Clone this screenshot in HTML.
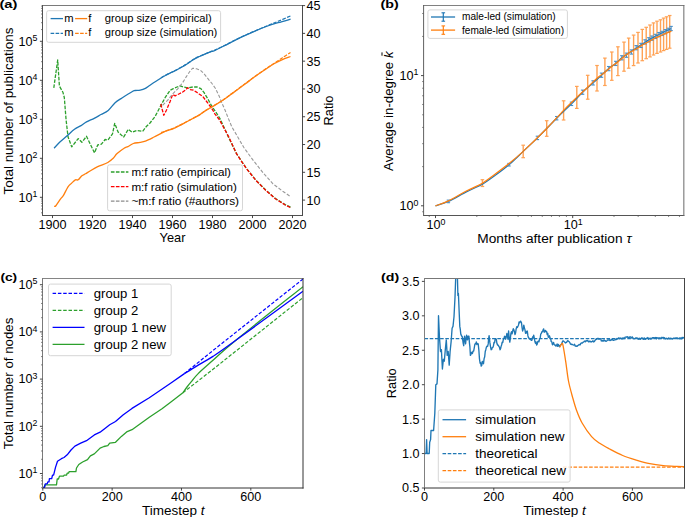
<!DOCTYPE html><html><head><meta charset="utf-8"><style>html,body{margin:0;padding:0;background:#fff;}svg{display:block;}text{font-family:"Liberation Sans", sans-serif;}</style></head><body>
<svg width="685" height="517" viewBox="0 0 685 517">
<rect width="685" height="517" fill="#fff"/>
<defs>
<clipPath id="ca"><rect x="42.5" y="5.5" width="260" height="210"/></clipPath>
<clipPath id="cb"><rect x="423.6" y="5.5" width="260.25" height="210"/></clipPath>
<clipPath id="cc"><rect x="42.5" y="278.5" width="260.5" height="209.5"/></clipPath>
<clipPath id="cd"><rect x="424.5" y="278.5" width="260" height="209.5"/></clipPath>
</defs>
<path d="M53.8,87.9 L57.7,60 L59.4,86.1 L62.9,92.2 L64.3,97.5 L66.1,120 L68,136.7 L71.7,146.9 L78.2,138.6 L81.9,142.3 L86.5,136.3 L94.5,152.8 L97.7,145 L101.4,144.1 L105.1,139.5 L107.9,140 L112.5,133.9 L114.7,123.3 L118.1,132.1 L123.6,137.1 L128.3,129.3 L132,132.3 L136.7,130.5 L142.8,131.2 L146.3,126.5 L150,123 L155,116.6 L161.3,104.7 L165.1,97.7 L170.1,90.2 L173.3,88.7 L177,87 L180.2,85.8 L183.3,87 L187.7,87.9 L192.8,87 L197.2,87 L200.9,88.7 L204.1,92.7 L207.9,99 L211.6,105.9 L215,110.8 L220.1,118.8 L228.6,137.4 L236.4,153.4 L246.1,168 L255.9,180.2 L265.7,190 L275.4,198.5 L285.2,204.6 L290.5,207.1" fill="none" stroke="#2ca02c" stroke-width="1.3" stroke-linejoin="round" stroke-linecap="butt" stroke-dasharray="3.6,1.4" clip-path="url(#ca)"/>
<path d="M160.7,104 L163.8,115.3 L166.4,110.3 L170.1,101.5 L172.6,94.6 L175.2,95.8 L178.9,94 L182.7,92.1 L185.2,90.2 L187.7,87.7 L190.3,89.6 L193.4,90.2 L196.5,92.1 L199.1,94 L202.8,96.5 L206.6,101.5 L210.4,106.5 L212.9,110.3 L215,114.1 L219.3,119.6 L228.6,136.6 L236.4,153.6 L246.1,168.2 L255.9,180.4 L265.7,190.3 L275.4,198.8 L285.2,205 L290.5,207.6" fill="none" stroke="#ff0000" stroke-width="1.3" stroke-linejoin="round" stroke-linecap="butt" stroke-dasharray="3.6,1.4" clip-path="url(#ca)"/>
<path d="M162.6,105.3 L167.6,100.3 L172.6,94 L177.7,88.9 L182.7,82.6 L186.5,76.4 L190.3,70.7 L192.8,68.2 L196.5,68.8 L200.3,70.1 L204.1,73.8 L209.1,80.1 L211.6,83 L215.5,88.5 L219.3,96.4 L221.7,102.6 L224.8,109.5 L227.9,117.3 L231.7,126.6 L237.2,136 L243.7,147.3 L253.5,160.7 L263.2,172.9 L273,183.9 L282.7,191.2 L290.5,196.6" fill="none" stroke="#999999" stroke-width="1.1" stroke-linejoin="round" stroke-linecap="butt" stroke-dasharray="3.4,1.7" clip-path="url(#ca)"/>
<path d="M54.1,148.2 C55.02,147.22 57.43,144.37 59.6,142.3 C61.77,140.23 64.62,137.97 67.1,135.8 C69.58,133.63 72.18,131 74.5,129.3 C76.82,127.6 79,126.83 81,125.6 C83,124.37 84.3,123.12 86.5,121.9 C88.7,120.68 91.78,119.53 94.2,118.3 C96.62,117.07 98.67,115.8 101,114.5 C103.33,113.2 105.85,112.47 108.2,110.5 C110.55,108.53 112.8,104.78 115.1,102.7 C117.4,100.62 119.18,99.83 122,98 C124.82,96.17 129.83,92.95 132,91.7 C134.17,90.45 133.63,90.77 135,90.5 C136.37,90.23 138.47,90.45 140.2,90.1 C141.93,89.75 143.77,89.22 145.4,88.4 C147.03,87.58 148.23,86.4 150,85.2 C151.77,84 153.9,82.57 156,81.2 C158.1,79.83 160.43,78.27 162.6,77 C164.77,75.73 166.9,74.65 169,73.6 C171.1,72.55 173.03,71.8 175.2,70.7 C177.37,69.6 180.03,68.12 182,67 C183.97,65.88 185.2,65.17 187,64 C188.8,62.83 191.13,61.07 192.8,60 C194.47,58.93 195.9,58.18 197,57.6 C198.1,57.02 197.27,57.4 199.4,56.5 C201.53,55.6 207.2,53.23 209.8,52.2 C212.4,51.17 211.95,51.7 215,50.3 C218.05,48.9 223.72,45.98 228.1,43.8 C232.48,41.62 236.92,39.28 241.3,37.2 C245.68,35.12 250.02,33.17 254.4,31.3 C258.78,29.43 263.65,27.43 267.6,26 C271.55,24.57 274.27,23.83 278.1,22.7 C281.93,21.57 288.52,19.78 290.6,19.2" fill="none" stroke="#1f77b4" stroke-width="1.3" stroke-linejoin="round" clip-path="url(#ca)"/>
<path d="M161,77.8 C162.33,77.07 166.63,74.62 169,73.4 C171.37,72.18 173.03,71.6 175.2,70.5 C177.37,69.4 180.03,67.92 182,66.8 C183.97,65.68 185.2,64.97 187,63.8 C188.8,62.63 191.13,60.87 192.8,59.8 C194.47,58.73 194.17,58.7 197,57.4 C199.83,56.1 206.8,53.22 209.8,52 C212.8,50.78 211.95,51.5 215,50.1 C218.05,48.7 223.72,45.78 228.1,43.6 C232.48,41.42 236.92,39.08 241.3,37 C245.68,34.92 250.02,33 254.4,31.1 C258.78,29.2 263.65,27.23 267.6,25.6 C271.55,23.97 274.27,22.92 278.1,21.3 C281.93,19.68 288.52,16.8 290.6,15.9" fill="none" stroke="#1f77b4" stroke-width="1.2" stroke-linejoin="round" stroke-dasharray="3.6,1.4" clip-path="url(#ca)"/>
<path d="M54.1,206.3 C54.4,206.2 54.82,206.93 55.9,205.7 C56.98,204.47 59.37,200.57 60.6,198.9 C61.83,197.23 62.07,197.72 63.3,195.7 C64.53,193.68 66.6,188.9 68,186.8 C69.4,184.7 70.47,184.27 71.7,183.1 C72.93,181.93 74.32,180.35 75.4,179.8 C76.48,179.25 77.12,180.48 78.2,179.8 C79.28,179.12 80.67,176.7 81.9,175.7 C83.13,174.7 84.25,174.58 85.6,173.8 C86.95,173.02 87.98,172.18 90,171 C92.02,169.82 94.73,168.12 97.7,166.7 C100.67,165.28 105.22,163.92 107.8,162.5 C110.38,161.08 111.65,159.68 113.2,158.2 C114.75,156.72 115.28,155.27 117.1,153.6 C118.92,151.93 122.3,149.37 124.1,148.2 C125.9,147.03 126.37,147.38 127.9,146.6 C129.43,145.82 131.28,144.2 133.3,143.5 C135.32,142.8 137.98,142.8 140,142.4 C142.02,142 143.05,142 145.4,141.1 C147.75,140.2 150.9,138.58 154.1,137 C157.3,135.42 161.4,133 164.6,131.6 C167.8,130.2 170.4,129.82 173.3,128.6 C176.2,127.38 178.82,125.93 182,124.3 C185.18,122.67 189.4,120.42 192.4,118.8 C195.4,117.18 197.73,116 200,114.6 C202.27,113.2 203.93,111.73 206,110.4 C208.07,109.07 209.78,108.17 212.4,106.6 C215.02,105.03 218.43,103.17 221.7,101 C224.97,98.83 228.12,96.43 232,93.6 C235.88,90.77 241.22,86.8 245,84 C248.78,81.2 251.47,79.13 254.7,76.8 C257.93,74.47 261.18,72.18 264.4,70 C267.62,67.82 271.1,65.4 274,63.7 C276.9,62 279.05,61 281.8,59.8 C284.55,58.6 289.05,57.05 290.5,56.5" fill="none" stroke="#ff7f0e" stroke-width="1.3" stroke-linejoin="round" clip-path="url(#ca)"/>
<path d="M161,132.5 C161.6,132.32 162.55,132.08 164.6,131.4 C166.65,130.72 170.4,129.62 173.3,128.4 C176.2,127.18 178.82,125.73 182,124.1 C185.18,122.47 189.4,120.22 192.4,118.6 C195.4,116.98 197.73,115.8 200,114.4 C202.27,113 203.93,111.53 206,110.2 C208.07,108.87 209.78,107.97 212.4,106.4 C215.02,104.83 218.43,102.97 221.7,100.8 C224.97,98.63 228.12,96.23 232,93.4 C235.88,90.57 241.22,86.6 245,83.8 C248.78,81 251.47,78.93 254.7,76.6 C257.93,74.27 261.18,72 264.4,69.8 C267.62,67.6 271.1,65.33 274,63.4 C276.9,61.47 279.05,60 281.8,58.2 C284.55,56.4 289.05,53.53 290.5,52.6" fill="none" stroke="#ff7f0e" stroke-width="1.2" stroke-linejoin="round" stroke-dasharray="3.6,1.4" clip-path="url(#ca)"/>
<line x1="42" y1="5.5" x2="303" y2="5.5" stroke="#7a7a7a" stroke-width="1.0"/>
<line x1="42" y1="215.5" x2="303" y2="215.5" stroke="#505050" stroke-width="1.0"/>
<line x1="42.5" y1="5" x2="42.5" y2="216" stroke="#505050" stroke-width="1.0"/>
<line x1="302.5" y1="5" x2="302.5" y2="216" stroke="#4a4a4a" stroke-width="1.0"/>
<line x1="52.5" y1="215.5" x2="52.5" y2="218.1" stroke="#333" stroke-width="0.9"/>
<text x="52.5" y="229" font-size="12.6" text-anchor="middle" font-weight="normal" fill="#000">1900</text>
<line x1="92.5" y1="215.5" x2="92.5" y2="218.1" stroke="#333" stroke-width="0.9"/>
<text x="92.5" y="229" font-size="12.6" text-anchor="middle" font-weight="normal" fill="#000">1920</text>
<line x1="132.5" y1="215.5" x2="132.5" y2="218.1" stroke="#333" stroke-width="0.9"/>
<text x="132.5" y="229" font-size="12.6" text-anchor="middle" font-weight="normal" fill="#000">1940</text>
<line x1="172.5" y1="215.5" x2="172.5" y2="218.1" stroke="#333" stroke-width="0.9"/>
<text x="172.5" y="229" font-size="12.6" text-anchor="middle" font-weight="normal" fill="#000">1960</text>
<line x1="212.5" y1="215.5" x2="212.5" y2="218.1" stroke="#333" stroke-width="0.9"/>
<text x="212.5" y="229" font-size="12.6" text-anchor="middle" font-weight="normal" fill="#000">1980</text>
<line x1="252.5" y1="215.5" x2="252.5" y2="218.1" stroke="#333" stroke-width="0.9"/>
<text x="252.5" y="229" font-size="12.6" text-anchor="middle" font-weight="normal" fill="#000">2000</text>
<line x1="292.5" y1="215.5" x2="292.5" y2="218.1" stroke="#333" stroke-width="0.9"/>
<text x="292.5" y="229" font-size="12.6" text-anchor="middle" font-weight="normal" fill="#000">2020</text>
<line x1="39.9" y1="197.3" x2="42.5" y2="197.3" stroke="#333" stroke-width="0.9"/>
<text x="37.3" y="201.6" font-size="12.6" text-anchor="end">10<tspan font-size="8.82" dy="-4.54">1</tspan></text>
<line x1="39.9" y1="158.3" x2="42.5" y2="158.3" stroke="#333" stroke-width="0.9"/>
<text x="37.3" y="162.6" font-size="12.6" text-anchor="end">10<tspan font-size="8.82" dy="-4.54">2</tspan></text>
<line x1="39.9" y1="119.3" x2="42.5" y2="119.3" stroke="#333" stroke-width="0.9"/>
<text x="37.3" y="123.6" font-size="12.6" text-anchor="end">10<tspan font-size="8.82" dy="-4.54">3</tspan></text>
<line x1="39.9" y1="80.3" x2="42.5" y2="80.3" stroke="#333" stroke-width="0.9"/>
<text x="37.3" y="84.6" font-size="12.6" text-anchor="end">10<tspan font-size="8.82" dy="-4.54">4</tspan></text>
<line x1="39.9" y1="41.3" x2="42.5" y2="41.3" stroke="#333" stroke-width="0.9"/>
<text x="37.3" y="45.6" font-size="12.6" text-anchor="end">10<tspan font-size="8.82" dy="-4.54">5</tspan></text>
<line x1="41" y1="212.82" x2="42.5" y2="212.82" stroke="#555" stroke-width="0.7"/>
<line x1="41" y1="209.04" x2="42.5" y2="209.04" stroke="#555" stroke-width="0.7"/>
<line x1="41" y1="205.95" x2="42.5" y2="205.95" stroke="#555" stroke-width="0.7"/>
<line x1="41" y1="203.34" x2="42.5" y2="203.34" stroke="#555" stroke-width="0.7"/>
<line x1="41" y1="201.08" x2="42.5" y2="201.08" stroke="#555" stroke-width="0.7"/>
<line x1="41" y1="199.08" x2="42.5" y2="199.08" stroke="#555" stroke-width="0.7"/>
<line x1="41" y1="185.56" x2="42.5" y2="185.56" stroke="#555" stroke-width="0.7"/>
<line x1="41" y1="178.69" x2="42.5" y2="178.69" stroke="#555" stroke-width="0.7"/>
<line x1="41" y1="173.82" x2="42.5" y2="173.82" stroke="#555" stroke-width="0.7"/>
<line x1="41" y1="170.04" x2="42.5" y2="170.04" stroke="#555" stroke-width="0.7"/>
<line x1="41" y1="166.95" x2="42.5" y2="166.95" stroke="#555" stroke-width="0.7"/>
<line x1="41" y1="164.34" x2="42.5" y2="164.34" stroke="#555" stroke-width="0.7"/>
<line x1="41" y1="162.08" x2="42.5" y2="162.08" stroke="#555" stroke-width="0.7"/>
<line x1="41" y1="160.08" x2="42.5" y2="160.08" stroke="#555" stroke-width="0.7"/>
<line x1="41" y1="146.56" x2="42.5" y2="146.56" stroke="#555" stroke-width="0.7"/>
<line x1="41" y1="139.69" x2="42.5" y2="139.69" stroke="#555" stroke-width="0.7"/>
<line x1="41" y1="134.82" x2="42.5" y2="134.82" stroke="#555" stroke-width="0.7"/>
<line x1="41" y1="131.04" x2="42.5" y2="131.04" stroke="#555" stroke-width="0.7"/>
<line x1="41" y1="127.95" x2="42.5" y2="127.95" stroke="#555" stroke-width="0.7"/>
<line x1="41" y1="125.34" x2="42.5" y2="125.34" stroke="#555" stroke-width="0.7"/>
<line x1="41" y1="123.08" x2="42.5" y2="123.08" stroke="#555" stroke-width="0.7"/>
<line x1="41" y1="121.08" x2="42.5" y2="121.08" stroke="#555" stroke-width="0.7"/>
<line x1="41" y1="107.56" x2="42.5" y2="107.56" stroke="#555" stroke-width="0.7"/>
<line x1="41" y1="100.69" x2="42.5" y2="100.69" stroke="#555" stroke-width="0.7"/>
<line x1="41" y1="95.82" x2="42.5" y2="95.82" stroke="#555" stroke-width="0.7"/>
<line x1="41" y1="92.04" x2="42.5" y2="92.04" stroke="#555" stroke-width="0.7"/>
<line x1="41" y1="88.95" x2="42.5" y2="88.95" stroke="#555" stroke-width="0.7"/>
<line x1="41" y1="86.34" x2="42.5" y2="86.34" stroke="#555" stroke-width="0.7"/>
<line x1="41" y1="84.08" x2="42.5" y2="84.08" stroke="#555" stroke-width="0.7"/>
<line x1="41" y1="82.08" x2="42.5" y2="82.08" stroke="#555" stroke-width="0.7"/>
<line x1="41" y1="68.56" x2="42.5" y2="68.56" stroke="#555" stroke-width="0.7"/>
<line x1="41" y1="61.69" x2="42.5" y2="61.69" stroke="#555" stroke-width="0.7"/>
<line x1="41" y1="56.82" x2="42.5" y2="56.82" stroke="#555" stroke-width="0.7"/>
<line x1="41" y1="53.04" x2="42.5" y2="53.04" stroke="#555" stroke-width="0.7"/>
<line x1="41" y1="49.95" x2="42.5" y2="49.95" stroke="#555" stroke-width="0.7"/>
<line x1="41" y1="47.34" x2="42.5" y2="47.34" stroke="#555" stroke-width="0.7"/>
<line x1="41" y1="45.08" x2="42.5" y2="45.08" stroke="#555" stroke-width="0.7"/>
<line x1="41" y1="43.08" x2="42.5" y2="43.08" stroke="#555" stroke-width="0.7"/>
<line x1="41" y1="29.56" x2="42.5" y2="29.56" stroke="#555" stroke-width="0.7"/>
<line x1="41" y1="22.69" x2="42.5" y2="22.69" stroke="#555" stroke-width="0.7"/>
<line x1="41" y1="17.82" x2="42.5" y2="17.82" stroke="#555" stroke-width="0.7"/>
<line x1="41" y1="14.04" x2="42.5" y2="14.04" stroke="#555" stroke-width="0.7"/>
<line x1="41" y1="10.95" x2="42.5" y2="10.95" stroke="#555" stroke-width="0.7"/>
<line x1="41" y1="8.34" x2="42.5" y2="8.34" stroke="#555" stroke-width="0.7"/>
<line x1="41" y1="6.08" x2="42.5" y2="6.08" stroke="#555" stroke-width="0.7"/>
<line x1="302.5" y1="200.1" x2="305.1" y2="200.1" stroke="#333" stroke-width="0.9"/>
<text x="306.6" y="204.5" font-size="12.6" text-anchor="start" font-weight="normal" fill="#000">10</text>
<line x1="302.5" y1="172.31" x2="305.1" y2="172.31" stroke="#333" stroke-width="0.9"/>
<text x="306.6" y="176.72" font-size="12.6" text-anchor="start" font-weight="normal" fill="#000">15</text>
<line x1="302.5" y1="144.53" x2="305.1" y2="144.53" stroke="#333" stroke-width="0.9"/>
<text x="306.6" y="148.93" font-size="12.6" text-anchor="start" font-weight="normal" fill="#000">20</text>
<line x1="302.5" y1="116.74" x2="305.1" y2="116.74" stroke="#333" stroke-width="0.9"/>
<text x="306.6" y="121.14" font-size="12.6" text-anchor="start" font-weight="normal" fill="#000">25</text>
<line x1="302.5" y1="88.96" x2="305.1" y2="88.96" stroke="#333" stroke-width="0.9"/>
<text x="306.6" y="93.36" font-size="12.6" text-anchor="start" font-weight="normal" fill="#000">30</text>
<line x1="302.5" y1="61.17" x2="305.1" y2="61.17" stroke="#333" stroke-width="0.9"/>
<text x="306.6" y="65.57" font-size="12.6" text-anchor="start" font-weight="normal" fill="#000">35</text>
<line x1="302.5" y1="33.39" x2="305.1" y2="33.39" stroke="#333" stroke-width="0.9"/>
<text x="306.6" y="37.79" font-size="12.6" text-anchor="start" font-weight="normal" fill="#000">40</text>
<line x1="302.5" y1="5.6" x2="305.1" y2="5.6" stroke="#333" stroke-width="0.9"/>
<text x="306.6" y="10" font-size="12.6" text-anchor="start" font-weight="normal" fill="#000">45</text>
<text x="172.5" y="242.2" font-size="12.8" text-anchor="middle" font-weight="normal" fill="#000">Year</text>
<text transform="translate(12.6,111) rotate(-90)" font-size="13.4" text-anchor="middle">Total number of publications</text>
<text transform="translate(333,110.5) rotate(-90)" font-size="12.8" text-anchor="middle">Ratio</text>
<text x="-0.6" y="8.4" font-size="11.3" font-weight="bold" text-anchor="start" textLength="18" lengthAdjust="spacingAndGlyphs">(a)</text>
<rect x="46.6" y="10.7" width="174" height="31.6" rx="2" ry="2" fill="#fff" fill-opacity="0.8" stroke="#d6d6d6" stroke-width="1"/>
<line x1="50.6" y1="18.6" x2="63" y2="18.6" stroke="#1f77b4" stroke-width="1.3"/>
<text x="64.2" y="22.1" font-size="11.2" text-anchor="start" font-weight="normal" fill="#000">m</text>
<line x1="75.1" y1="18.6" x2="87.2" y2="18.6" stroke="#ff7f0e" stroke-width="1.3"/>
<text x="88.2" y="22.1" font-size="11.2" text-anchor="start" font-weight="normal" fill="#000">f</text>
<text x="104.8" y="22.1" font-size="11.2" text-anchor="start" font-weight="normal" fill="#000">group size (empirical)</text>
<line x1="50.6" y1="33.4" x2="63" y2="33.4" stroke="#1f77b4" stroke-width="1.2" stroke-dasharray="3.6,1.4"/>
<text x="64.2" y="36.3" font-size="11.2" text-anchor="start" font-weight="normal" fill="#000">m</text>
<line x1="75.1" y1="33.4" x2="87.2" y2="33.4" stroke="#ff7f0e" stroke-width="1.2" stroke-dasharray="3.6,1.4"/>
<text x="88.2" y="36.3" font-size="11.2" text-anchor="start" font-weight="normal" fill="#000">f</text>
<text x="104.8" y="36.3" font-size="11.2" text-anchor="start" font-weight="normal" fill="#000">group size (simulation)</text>
<rect x="107.6" y="164.8" width="134.9" height="46" rx="2" ry="2" fill="#fff" fill-opacity="0.8" stroke="#d6d6d6" stroke-width="1"/>
<line x1="110.9" y1="172" x2="128.4" y2="172" stroke="#2ca02c" stroke-width="1.3" stroke-dasharray="3.6,1.4"/>
<text x="131.4" y="176" font-size="11.65" text-anchor="start" font-weight="normal" fill="#000">m:f ratio (empirical)</text>
<line x1="110.9" y1="186.6" x2="128.4" y2="186.6" stroke="#ff0000" stroke-width="1.3" stroke-dasharray="3.6,1.4"/>
<text x="131.4" y="190.6" font-size="11.65" text-anchor="start" font-weight="normal" fill="#000">m:f ratio (simulation)</text>
<line x1="110.9" y1="201.2" x2="128.4" y2="201.2" stroke="#8c8c8c" stroke-width="1.3" stroke-dasharray="3.6,1.4"/>
<text x="131.4" y="205.2" font-size="11.65" font-weight="normal" text-anchor="start" textLength="107.7" lengthAdjust="spacingAndGlyphs">~m:f ratio (#authors)</text>
<line x1="482.4" y1="179.7" x2="482.4" y2="186.5" stroke="#ffa254" stroke-width="1.4"/>
<line x1="480.6" y1="179.7" x2="484.2" y2="179.7" stroke="#ffa254" stroke-width="1.2"/>
<line x1="480.6" y1="186.5" x2="484.2" y2="186.5" stroke="#ffa254" stroke-width="1.2"/>
<line x1="523.2" y1="145.2" x2="523.2" y2="157.7" stroke="#ffa254" stroke-width="1.4"/>
<line x1="521.4" y1="145.2" x2="525" y2="145.2" stroke="#ffa254" stroke-width="1.2"/>
<line x1="521.4" y1="157.7" x2="525" y2="157.7" stroke="#ffa254" stroke-width="1.2"/>
<line x1="546.7" y1="120.7" x2="546.7" y2="136.3" stroke="#ffa254" stroke-width="1.4"/>
<line x1="544.9" y1="120.7" x2="548.5" y2="120.7" stroke="#ffa254" stroke-width="1.2"/>
<line x1="544.9" y1="136.3" x2="548.5" y2="136.3" stroke="#ffa254" stroke-width="1.2"/>
<line x1="563.6" y1="100.8" x2="563.6" y2="120" stroke="#ffa254" stroke-width="1.4"/>
<line x1="561.8" y1="100.8" x2="565.4" y2="100.8" stroke="#ffa254" stroke-width="1.2"/>
<line x1="561.8" y1="120" x2="565.4" y2="120" stroke="#ffa254" stroke-width="1.2"/>
<line x1="576.8" y1="86.4" x2="576.8" y2="108.4" stroke="#ffa254" stroke-width="1.4"/>
<line x1="575" y1="86.4" x2="578.6" y2="86.4" stroke="#ffa254" stroke-width="1.2"/>
<line x1="575" y1="108.4" x2="578.6" y2="108.4" stroke="#ffa254" stroke-width="1.2"/>
<line x1="587.7" y1="75.3" x2="587.7" y2="99.2" stroke="#ffa254" stroke-width="1.4"/>
<line x1="585.9" y1="75.3" x2="589.5" y2="75.3" stroke="#ffa254" stroke-width="1.2"/>
<line x1="585.9" y1="99.2" x2="589.5" y2="99.2" stroke="#ffa254" stroke-width="1.2"/>
<line x1="597" y1="65.5" x2="597" y2="91" stroke="#ffa254" stroke-width="1.4"/>
<line x1="595.2" y1="65.5" x2="598.8" y2="65.5" stroke="#ffa254" stroke-width="1.2"/>
<line x1="595.2" y1="91" x2="598.8" y2="91" stroke="#ffa254" stroke-width="1.2"/>
<line x1="604.9" y1="58.1" x2="604.9" y2="85.5" stroke="#ffa254" stroke-width="1.4"/>
<line x1="603.1" y1="58.1" x2="606.7" y2="58.1" stroke="#ffa254" stroke-width="1.2"/>
<line x1="603.1" y1="85.5" x2="606.7" y2="85.5" stroke="#ffa254" stroke-width="1.2"/>
<line x1="611.8" y1="52" x2="611.8" y2="80.3" stroke="#ffa254" stroke-width="1.4"/>
<line x1="610" y1="52" x2="613.6" y2="52" stroke="#ffa254" stroke-width="1.2"/>
<line x1="610" y1="80.3" x2="613.6" y2="80.3" stroke="#ffa254" stroke-width="1.2"/>
<line x1="617.9" y1="46.8" x2="617.9" y2="75.6" stroke="#ffa254" stroke-width="1.4"/>
<line x1="616.1" y1="46.8" x2="619.7" y2="46.8" stroke="#ffa254" stroke-width="1.2"/>
<line x1="616.1" y1="75.6" x2="619.7" y2="75.6" stroke="#ffa254" stroke-width="1.2"/>
<line x1="624" y1="42.1" x2="624" y2="71.2" stroke="#ffa254" stroke-width="1.4"/>
<line x1="622.2" y1="42.1" x2="625.8" y2="42.1" stroke="#ffa254" stroke-width="1.2"/>
<line x1="622.2" y1="71.2" x2="625.8" y2="71.2" stroke="#ffa254" stroke-width="1.2"/>
<line x1="628.7" y1="38.1" x2="628.7" y2="68.2" stroke="#ffa254" stroke-width="1.4"/>
<line x1="626.9" y1="38.1" x2="630.5" y2="38.1" stroke="#ffa254" stroke-width="1.2"/>
<line x1="626.9" y1="68.2" x2="630.5" y2="68.2" stroke="#ffa254" stroke-width="1.2"/>
<line x1="633.6" y1="35.1" x2="633.6" y2="65.6" stroke="#ffa254" stroke-width="1.4"/>
<line x1="631.8" y1="35.1" x2="635.4" y2="35.1" stroke="#ffa254" stroke-width="1.2"/>
<line x1="631.8" y1="65.6" x2="635.4" y2="65.6" stroke="#ffa254" stroke-width="1.2"/>
<line x1="638" y1="32.4" x2="638" y2="63" stroke="#ffa254" stroke-width="1.4"/>
<line x1="636.2" y1="32.4" x2="639.8" y2="32.4" stroke="#ffa254" stroke-width="1.2"/>
<line x1="636.2" y1="63" x2="639.8" y2="63" stroke="#ffa254" stroke-width="1.2"/>
<line x1="642.3" y1="29.4" x2="642.3" y2="60.7" stroke="#ffa254" stroke-width="1.4"/>
<line x1="640.5" y1="29.4" x2="644.1" y2="29.4" stroke="#ffa254" stroke-width="1.2"/>
<line x1="640.5" y1="60.7" x2="644.1" y2="60.7" stroke="#ffa254" stroke-width="1.2"/>
<line x1="646.2" y1="27.3" x2="646.2" y2="58.7" stroke="#ffa254" stroke-width="1.4"/>
<line x1="644.4" y1="27.3" x2="648" y2="27.3" stroke="#ffa254" stroke-width="1.2"/>
<line x1="644.4" y1="58.7" x2="648" y2="58.7" stroke="#ffa254" stroke-width="1.2"/>
<line x1="650" y1="25" x2="650" y2="56.9" stroke="#ffa254" stroke-width="1.4"/>
<line x1="648.2" y1="25" x2="651.8" y2="25" stroke="#ffa254" stroke-width="1.2"/>
<line x1="648.2" y1="56.9" x2="651.8" y2="56.9" stroke="#ffa254" stroke-width="1.2"/>
<line x1="653.5" y1="22.9" x2="653.5" y2="55" stroke="#ffa254" stroke-width="1.4"/>
<line x1="651.7" y1="22.9" x2="655.3" y2="22.9" stroke="#ffa254" stroke-width="1.2"/>
<line x1="651.7" y1="55" x2="655.3" y2="55" stroke="#ffa254" stroke-width="1.2"/>
<line x1="657" y1="21.2" x2="657" y2="53.4" stroke="#ffa254" stroke-width="1.4"/>
<line x1="655.2" y1="21.2" x2="658.8" y2="21.2" stroke="#ffa254" stroke-width="1.2"/>
<line x1="655.2" y1="53.4" x2="658.8" y2="53.4" stroke="#ffa254" stroke-width="1.2"/>
<line x1="660.5" y1="19.8" x2="660.5" y2="52" stroke="#ffa254" stroke-width="1.4"/>
<line x1="658.7" y1="19.8" x2="662.3" y2="19.8" stroke="#ffa254" stroke-width="1.2"/>
<line x1="658.7" y1="52" x2="662.3" y2="52" stroke="#ffa254" stroke-width="1.2"/>
<line x1="663.6" y1="18.1" x2="663.6" y2="50.6" stroke="#ffa254" stroke-width="1.4"/>
<line x1="661.8" y1="18.1" x2="665.4" y2="18.1" stroke="#ffa254" stroke-width="1.2"/>
<line x1="661.8" y1="50.6" x2="665.4" y2="50.6" stroke="#ffa254" stroke-width="1.2"/>
<line x1="666.6" y1="16.8" x2="666.6" y2="49.4" stroke="#ffa254" stroke-width="1.4"/>
<line x1="664.8" y1="16.8" x2="668.4" y2="16.8" stroke="#ffa254" stroke-width="1.2"/>
<line x1="664.8" y1="49.4" x2="668.4" y2="49.4" stroke="#ffa254" stroke-width="1.2"/>
<line x1="669.7" y1="15.5" x2="669.7" y2="48.2" stroke="#ffa254" stroke-width="1.4"/>
<line x1="667.9" y1="15.5" x2="671.5" y2="15.5" stroke="#ffa254" stroke-width="1.2"/>
<line x1="667.9" y1="48.2" x2="671.5" y2="48.2" stroke="#ffa254" stroke-width="1.2"/>
<path d="M435.5,205.8 C437.65,205.07 443.18,203.77 448.4,201.4 C453.62,199.03 461.13,194.47 466.8,191.6 C472.47,188.73 477.82,186.8 482.4,184.2 C486.98,181.6 489.87,179.25 494.3,176 C498.73,172.75 504.18,168.8 509,164.7 C513.82,160.6 518.47,155.87 523.2,151.4 C527.93,146.93 531.82,143.43 537.4,137.9 C542.98,132.37 551.02,123.88 556.7,118.2 C562.38,112.52 567.18,108.13 571.5,103.8 C575.82,99.47 579,95.68 582.6,92.2 C586.2,88.72 589.95,85.73 593.1,82.9 C596.25,80.07 598.9,77.58 601.5,75.2 C604.1,72.82 606.33,70.57 608.7,68.6 C611.07,66.63 613.52,65.2 615.7,63.4 C617.88,61.6 620,59.27 621.8,57.8 C623.6,56.33 624.9,55.7 626.5,54.6 C628.1,53.5 629.78,52.32 631.4,51.2 C633.02,50.08 634.62,48.93 636.2,47.9 C637.78,46.87 639.43,45.93 640.9,45 C642.37,44.07 643.68,43.15 645,42.3 C646.32,41.45 647.65,40.6 648.8,39.9 C649.95,39.2 650.8,38.7 651.9,38.1 C653,37.5 654.23,36.9 655.4,36.3 C656.57,35.7 657.8,35.07 658.9,34.5 C660,33.93 660.93,33.43 662,32.9 C663.07,32.37 664.25,31.8 665.3,31.3 C666.35,30.8 667.33,30.37 668.3,29.9 C669.27,29.43 670.63,28.73 671.1,28.5" fill="none" stroke="#1f77b4" stroke-width="1.25" stroke-linejoin="round" clip-path="url(#cb)"/>
<line x1="448.4" y1="200.1" x2="448.4" y2="202.7" stroke="#4a90c8" stroke-width="1.1"/>
<line x1="446.7" y1="200.1" x2="450.1" y2="200.1" stroke="#4a90c8" stroke-width="1.1"/>
<line x1="446.7" y1="202.7" x2="450.1" y2="202.7" stroke="#4a90c8" stroke-width="1.1"/>
<line x1="509" y1="163.4" x2="509" y2="166" stroke="#4a90c8" stroke-width="1.1"/>
<line x1="507.3" y1="163.4" x2="510.7" y2="163.4" stroke="#4a90c8" stroke-width="1.1"/>
<line x1="507.3" y1="166" x2="510.7" y2="166" stroke="#4a90c8" stroke-width="1.1"/>
<line x1="537.4" y1="136.2" x2="537.4" y2="139.6" stroke="#4a90c8" stroke-width="1.1"/>
<line x1="535.7" y1="136.2" x2="539.1" y2="136.2" stroke="#4a90c8" stroke-width="1.1"/>
<line x1="535.7" y1="139.6" x2="539.1" y2="139.6" stroke="#4a90c8" stroke-width="1.1"/>
<line x1="556.7" y1="116.5" x2="556.7" y2="119.9" stroke="#4a90c8" stroke-width="1.1"/>
<line x1="555" y1="116.5" x2="558.4" y2="116.5" stroke="#4a90c8" stroke-width="1.1"/>
<line x1="555" y1="119.9" x2="558.4" y2="119.9" stroke="#4a90c8" stroke-width="1.1"/>
<line x1="571.5" y1="102.1" x2="571.5" y2="105.5" stroke="#4a90c8" stroke-width="1.1"/>
<line x1="569.8" y1="102.1" x2="573.2" y2="102.1" stroke="#4a90c8" stroke-width="1.1"/>
<line x1="569.8" y1="105.5" x2="573.2" y2="105.5" stroke="#4a90c8" stroke-width="1.1"/>
<line x1="582.6" y1="90.1" x2="582.6" y2="94.3" stroke="#4a90c8" stroke-width="1.1"/>
<line x1="580.9" y1="90.1" x2="584.3" y2="90.1" stroke="#4a90c8" stroke-width="1.1"/>
<line x1="580.9" y1="94.3" x2="584.3" y2="94.3" stroke="#4a90c8" stroke-width="1.1"/>
<line x1="593.1" y1="80.8" x2="593.1" y2="85" stroke="#4a90c8" stroke-width="1.1"/>
<line x1="591.4" y1="80.8" x2="594.8" y2="80.8" stroke="#4a90c8" stroke-width="1.1"/>
<line x1="591.4" y1="85" x2="594.8" y2="85" stroke="#4a90c8" stroke-width="1.1"/>
<line x1="601.5" y1="73.1" x2="601.5" y2="77.3" stroke="#4a90c8" stroke-width="1.1"/>
<line x1="599.8" y1="73.1" x2="603.2" y2="73.1" stroke="#4a90c8" stroke-width="1.1"/>
<line x1="599.8" y1="77.3" x2="603.2" y2="77.3" stroke="#4a90c8" stroke-width="1.1"/>
<line x1="608.7" y1="66.5" x2="608.7" y2="70.7" stroke="#4a90c8" stroke-width="1.1"/>
<line x1="607" y1="66.5" x2="610.4" y2="66.5" stroke="#4a90c8" stroke-width="1.1"/>
<line x1="607" y1="70.7" x2="610.4" y2="70.7" stroke="#4a90c8" stroke-width="1.1"/>
<line x1="615.7" y1="61.3" x2="615.7" y2="65.5" stroke="#4a90c8" stroke-width="1.1"/>
<line x1="614" y1="61.3" x2="617.4" y2="61.3" stroke="#4a90c8" stroke-width="1.1"/>
<line x1="614" y1="65.5" x2="617.4" y2="65.5" stroke="#4a90c8" stroke-width="1.1"/>
<line x1="621.8" y1="55.7" x2="621.8" y2="59.9" stroke="#4a90c8" stroke-width="1.1"/>
<line x1="620.1" y1="55.7" x2="623.5" y2="55.7" stroke="#4a90c8" stroke-width="1.1"/>
<line x1="620.1" y1="59.9" x2="623.5" y2="59.9" stroke="#4a90c8" stroke-width="1.1"/>
<line x1="626.5" y1="53.1" x2="626.5" y2="57.3" stroke="#4a90c8" stroke-width="1.1"/>
<line x1="624.8" y1="53.1" x2="628.2" y2="53.1" stroke="#4a90c8" stroke-width="1.1"/>
<line x1="624.8" y1="57.3" x2="628.2" y2="57.3" stroke="#4a90c8" stroke-width="1.1"/>
<line x1="631.4" y1="49.9" x2="631.4" y2="54.1" stroke="#4a90c8" stroke-width="1.1"/>
<line x1="629.7" y1="49.9" x2="633.1" y2="49.9" stroke="#4a90c8" stroke-width="1.1"/>
<line x1="629.7" y1="54.1" x2="633.1" y2="54.1" stroke="#4a90c8" stroke-width="1.1"/>
<line x1="636.2" y1="45.6" x2="636.2" y2="49.8" stroke="#4a90c8" stroke-width="1.1"/>
<line x1="634.5" y1="45.6" x2="637.9" y2="45.6" stroke="#4a90c8" stroke-width="1.1"/>
<line x1="634.5" y1="49.8" x2="637.9" y2="49.8" stroke="#4a90c8" stroke-width="1.1"/>
<line x1="640.9" y1="43.3" x2="640.9" y2="47.5" stroke="#4a90c8" stroke-width="1.1"/>
<line x1="639.2" y1="43.3" x2="642.6" y2="43.3" stroke="#4a90c8" stroke-width="1.1"/>
<line x1="639.2" y1="47.5" x2="642.6" y2="47.5" stroke="#4a90c8" stroke-width="1.1"/>
<line x1="645" y1="39.8" x2="645" y2="44" stroke="#4a90c8" stroke-width="1.1"/>
<line x1="643.3" y1="39.8" x2="646.7" y2="39.8" stroke="#4a90c8" stroke-width="1.1"/>
<line x1="643.3" y1="44" x2="646.7" y2="44" stroke="#4a90c8" stroke-width="1.1"/>
<line x1="648.8" y1="37.7" x2="648.8" y2="41.9" stroke="#4a90c8" stroke-width="1.1"/>
<line x1="647.1" y1="37.7" x2="650.5" y2="37.7" stroke="#4a90c8" stroke-width="1.1"/>
<line x1="647.1" y1="41.9" x2="650.5" y2="41.9" stroke="#4a90c8" stroke-width="1.1"/>
<line x1="651.9" y1="36" x2="651.9" y2="40.2" stroke="#4a90c8" stroke-width="1.1"/>
<line x1="650.2" y1="36" x2="653.6" y2="36" stroke="#4a90c8" stroke-width="1.1"/>
<line x1="650.2" y1="40.2" x2="653.6" y2="40.2" stroke="#4a90c8" stroke-width="1.1"/>
<line x1="655.4" y1="34.3" x2="655.4" y2="38.5" stroke="#4a90c8" stroke-width="1.1"/>
<line x1="653.7" y1="34.3" x2="657.1" y2="34.3" stroke="#4a90c8" stroke-width="1.1"/>
<line x1="653.7" y1="38.5" x2="657.1" y2="38.5" stroke="#4a90c8" stroke-width="1.1"/>
<line x1="658.9" y1="32.5" x2="658.9" y2="36.7" stroke="#4a90c8" stroke-width="1.1"/>
<line x1="657.2" y1="32.5" x2="660.6" y2="32.5" stroke="#4a90c8" stroke-width="1.1"/>
<line x1="657.2" y1="36.7" x2="660.6" y2="36.7" stroke="#4a90c8" stroke-width="1.1"/>
<line x1="662" y1="31.3" x2="662" y2="35.5" stroke="#4a90c8" stroke-width="1.1"/>
<line x1="660.3" y1="31.3" x2="663.7" y2="31.3" stroke="#4a90c8" stroke-width="1.1"/>
<line x1="660.3" y1="35.5" x2="663.7" y2="35.5" stroke="#4a90c8" stroke-width="1.1"/>
<line x1="665.3" y1="29.6" x2="665.3" y2="33.8" stroke="#4a90c8" stroke-width="1.1"/>
<line x1="663.6" y1="29.6" x2="667" y2="29.6" stroke="#4a90c8" stroke-width="1.1"/>
<line x1="663.6" y1="33.8" x2="667" y2="33.8" stroke="#4a90c8" stroke-width="1.1"/>
<line x1="668.3" y1="28.2" x2="668.3" y2="32.4" stroke="#4a90c8" stroke-width="1.1"/>
<line x1="666.6" y1="28.2" x2="670" y2="28.2" stroke="#4a90c8" stroke-width="1.1"/>
<line x1="666.6" y1="32.4" x2="670" y2="32.4" stroke="#4a90c8" stroke-width="1.1"/>
<line x1="671.1" y1="26.4" x2="671.1" y2="30.6" stroke="#4a90c8" stroke-width="1.1"/>
<line x1="669.4" y1="26.4" x2="672.8" y2="26.4" stroke="#4a90c8" stroke-width="1.1"/>
<line x1="669.4" y1="30.6" x2="672.8" y2="30.6" stroke="#4a90c8" stroke-width="1.1"/>
<path d="M435.5,205.8 C437.65,204.98 443.18,203.4 448.4,200.9 C453.62,198.4 461.13,193.75 466.8,190.8 C472.47,187.85 477.82,185.87 482.4,183.2 C486.98,180.53 489.87,178.07 494.3,174.8 C498.73,171.53 504.18,167.5 509,163.6 C513.82,159.7 516.92,157.25 523.2,151.4 C529.48,145.55 539.97,135.33 546.7,128.5 C553.43,121.67 558.58,115.58 563.6,110.4 C568.62,105.22 572.78,101.27 576.8,97.4 C580.82,93.53 584.33,90.4 587.7,87.2 C591.07,84 594.08,80.75 597,78.2 C599.92,75.65 602.72,73.88 605.2,71.9 C607.68,69.92 609.67,68.08 611.9,66.3 C614.13,64.52 616.58,62.82 618.6,61.2 C620.62,59.58 622.32,57.95 624,56.6 C625.68,55.25 627.1,54.15 628.7,53.1 C630.3,52.05 632.05,51.2 633.6,50.3 C635.15,49.4 636.55,48.58 638,47.7 C639.45,46.82 640.93,45.78 642.3,45 C643.67,44.22 644.92,43.67 646.2,43 C647.48,42.33 648.78,41.67 650,41 C651.22,40.33 652.33,39.62 653.5,39 C654.67,38.38 655.83,37.82 657,37.3 C658.17,36.78 659.4,36.4 660.5,35.9 C661.6,35.4 662.58,34.77 663.6,34.3 C664.62,33.83 665.58,33.52 666.6,33.1 C667.62,32.68 668.9,32.13 669.7,31.8 C670.5,31.47 671.12,31.22 671.4,31.1" fill="none" stroke="#ff7f0e" stroke-width="1.25" stroke-linejoin="round" clip-path="url(#cb)"/>
<line x1="423.1" y1="5.5" x2="684.35" y2="5.5" stroke="#808080" stroke-width="1.0"/>
<line x1="423.1" y1="215.5" x2="684.35" y2="215.5" stroke="#555" stroke-width="1.0"/>
<line x1="423.6" y1="5" x2="423.6" y2="216" stroke="#606060" stroke-width="1.0"/>
<line x1="683.85" y1="5" x2="683.85" y2="216" stroke="#6a6a6a" stroke-width="1.0"/>
<line x1="435.5" y1="215.5" x2="435.5" y2="218.1" stroke="#333" stroke-width="0.9"/>
<text x="436" y="229.3" font-size="12.6" text-anchor="middle">10<tspan font-size="8.82" dy="-4.54">0</tspan></text>
<line x1="572.7" y1="215.5" x2="572.7" y2="218.1" stroke="#333" stroke-width="0.9"/>
<text x="573.2" y="229.3" font-size="12.6" text-anchor="middle">10<tspan font-size="8.82" dy="-4.54">1</tspan></text>
<line x1="429.22" y1="215.5" x2="429.22" y2="217" stroke="#555" stroke-width="0.7"/>
<line x1="476.8" y1="215.5" x2="476.8" y2="217" stroke="#555" stroke-width="0.7"/>
<line x1="500.96" y1="215.5" x2="500.96" y2="217" stroke="#555" stroke-width="0.7"/>
<line x1="518.1" y1="215.5" x2="518.1" y2="217" stroke="#555" stroke-width="0.7"/>
<line x1="531.4" y1="215.5" x2="531.4" y2="217" stroke="#555" stroke-width="0.7"/>
<line x1="542.26" y1="215.5" x2="542.26" y2="217" stroke="#555" stroke-width="0.7"/>
<line x1="551.45" y1="215.5" x2="551.45" y2="217" stroke="#555" stroke-width="0.7"/>
<line x1="559.4" y1="215.5" x2="559.4" y2="217" stroke="#555" stroke-width="0.7"/>
<line x1="566.42" y1="215.5" x2="566.42" y2="217" stroke="#555" stroke-width="0.7"/>
<line x1="614" y1="215.5" x2="614" y2="217" stroke="#555" stroke-width="0.7"/>
<line x1="638.16" y1="215.5" x2="638.16" y2="217" stroke="#555" stroke-width="0.7"/>
<line x1="655.3" y1="215.5" x2="655.3" y2="217" stroke="#555" stroke-width="0.7"/>
<line x1="668.6" y1="215.5" x2="668.6" y2="217" stroke="#555" stroke-width="0.7"/>
<line x1="679.46" y1="215.5" x2="679.46" y2="217" stroke="#555" stroke-width="0.7"/>
<line x1="421" y1="205.8" x2="423.6" y2="205.8" stroke="#333" stroke-width="0.9"/>
<text x="418.5" y="210.1" font-size="12.6" text-anchor="end">10<tspan font-size="8.82" dy="-4.54">0</tspan></text>
<line x1="421" y1="75.6" x2="423.6" y2="75.6" stroke="#333" stroke-width="0.9"/>
<text x="418.5" y="79.9" font-size="12.6" text-anchor="end">10<tspan font-size="8.82" dy="-4.54">1</tspan></text>
<line x1="422.1" y1="211.76" x2="423.6" y2="211.76" stroke="#555" stroke-width="0.7"/>
<line x1="422.1" y1="166.61" x2="423.6" y2="166.61" stroke="#555" stroke-width="0.7"/>
<line x1="422.1" y1="143.68" x2="423.6" y2="143.68" stroke="#555" stroke-width="0.7"/>
<line x1="422.1" y1="127.41" x2="423.6" y2="127.41" stroke="#555" stroke-width="0.7"/>
<line x1="422.1" y1="114.79" x2="423.6" y2="114.79" stroke="#555" stroke-width="0.7"/>
<line x1="422.1" y1="104.48" x2="423.6" y2="104.48" stroke="#555" stroke-width="0.7"/>
<line x1="422.1" y1="95.77" x2="423.6" y2="95.77" stroke="#555" stroke-width="0.7"/>
<line x1="422.1" y1="88.22" x2="423.6" y2="88.22" stroke="#555" stroke-width="0.7"/>
<line x1="422.1" y1="81.56" x2="423.6" y2="81.56" stroke="#555" stroke-width="0.7"/>
<line x1="422.1" y1="36.41" x2="423.6" y2="36.41" stroke="#555" stroke-width="0.7"/>
<line x1="422.1" y1="13.48" x2="423.6" y2="13.48" stroke="#555" stroke-width="0.7"/>
<text x="554.4" y="242.8" font-size="13.7" text-anchor="middle" font-weight="normal" fill="#000">Months after publication <tspan font-style="italic">τ</tspan></text>
<text transform="translate(393.2,111.2) rotate(-90)" font-size="13.3" text-anchor="middle">Average in-degree <tspan font-style="italic">k</tspan></text>
<line x1="382.0" y1="52.4" x2="382.0" y2="55.7" stroke="#000" stroke-width="1.0"/>
<text x="380.5" y="8.4" font-size="11.3" font-weight="bold" text-anchor="start" textLength="18.2" lengthAdjust="spacingAndGlyphs">(b)</text>
<rect x="427.9" y="9.9" width="139.5" height="28.5" rx="2" ry="2" fill="#fff" fill-opacity="0.8" stroke="#d6d6d6" stroke-width="1"/>
<line x1="431" y1="17" x2="455.1" y2="17" stroke="#1f77b4" stroke-width="1.3"/>
<line x1="443.3" y1="12.8" x2="443.3" y2="21.2" stroke="#1f77b4" stroke-width="1.2"/>
<line x1="441.5" y1="12.8" x2="445.1" y2="12.8" stroke="#1f77b4" stroke-width="1.1"/>
<line x1="441.5" y1="21.2" x2="445.1" y2="21.2" stroke="#1f77b4" stroke-width="1.1"/>
<line x1="431" y1="30.1" x2="455.1" y2="30.1" stroke="#ff7f0e" stroke-width="1.3"/>
<line x1="443.3" y1="25.9" x2="443.3" y2="34.3" stroke="#ff7f0e" stroke-width="1.2"/>
<line x1="441.5" y1="25.9" x2="445.1" y2="25.9" stroke="#ff7f0e" stroke-width="1.1"/>
<line x1="441.5" y1="34.3" x2="445.1" y2="34.3" stroke="#ff7f0e" stroke-width="1.1"/>
<text x="462" y="20.4" font-size="10.1" text-anchor="start" font-weight="normal" fill="#000">male-led (simulation)</text>
<text x="462" y="33.5" font-size="10.1" text-anchor="start" font-weight="normal" fill="#000">female-led (simulation)</text>
<path d="M43.2,487.5 L44.3,487.5 L44.9,484.8 L56.5,484.8 L57.2,479 L58.5,479 L59.5,476.1 L63.5,476.1 L64.2,475.2 L66.5,475.2 L67.2,473.2 L68.5,473.2 L69.1,471.7 L75.9,471.7 L76.5,468 L78.8,464.5 L82.6,462 L87.5,459.7 L90.4,455.8 L94.3,453.9 L100.1,448.1 L103.9,446.5 L107.8,445.7 L109.7,443.2 L115.5,442.3 L121.4,436.4 L127.2,431.6 L132,429.7 L149.3,417.2 L162,408.7 L170.6,402.3 L182.9,392.8" fill="none" stroke="#2ca02c" stroke-width="1.3" stroke-linejoin="round" stroke-linecap="butt" clip-path="url(#cc)"/>
<path d="M182.9,392.8 C183.58,391.83 185.52,388.95 187,387 C188.48,385.05 189.93,383.33 191.8,381.1 C193.67,378.87 194.67,377.07 198.2,373.6 C201.73,370.13 206.67,365.92 213,360.3 C219.33,354.68 221.2,352.17 236.2,339.9 C251.2,327.63 291.87,295.57 303,286.7" fill="none" stroke="#2ca02c" stroke-width="1.3" stroke-linejoin="round" clip-path="url(#cc)"/>
<path d="M182.9,392.8 L213,369.3 L303.5,297.2" fill="none" stroke="#2ca02c" stroke-width="1.2" stroke-linejoin="round" stroke-linecap="butt" stroke-dasharray="3.5,1.8" clip-path="url(#cc)"/>
<path d="M43.2,487.5 L44.5,487.5 L45.3,483.9 L47.2,483.9 L47.8,481.9 L49,481.9 L49.4,478.6 L51.7,478.6 L52.5,475.2 L53.6,475.2 L55.5,467.4 L57.5,461.2 L61.4,458.7 L64,457.5 L67.2,454.8 L71,450 L74.9,446.1 L80.7,443.2 L86.5,440.7 L94.3,434.9 L100.1,432.2 L105.9,427.7 L109.7,424.8 L115.5,421.5 L123.3,414.8 L132,408.4 L149.3,397.7 L170.6,383.2 L184.4,373.6" fill="none" stroke="#0000ff" stroke-width="1.3" stroke-linejoin="round" stroke-linecap="butt" clip-path="url(#cc)"/>
<path d="M184.4,373.6 C185.5,372.93 188.7,371.02 191,369.6 C193.3,368.18 194.53,367.3 198.2,365.1 C201.87,362.9 207.3,360.12 213,356.4 C218.7,352.68 217.4,353.67 232.4,342.8 C247.4,331.93 291.23,299.8 303,291.2" fill="none" stroke="#0000ff" stroke-width="1.3" stroke-linejoin="round" clip-path="url(#cc)"/>
<path d="M184.4,373.6 L213,350.5 L303.5,278.6" fill="none" stroke="#0000ff" stroke-width="1.2" stroke-linejoin="round" stroke-linecap="butt" stroke-dasharray="3.5,1.8" clip-path="url(#cc)"/>
<line x1="42" y1="278.5" x2="303.5" y2="278.5" stroke="#858585" stroke-width="1.0"/>
<line x1="42" y1="488" x2="303.5" y2="488" stroke="#333" stroke-width="1.0"/>
<line x1="42.5" y1="278" x2="42.5" y2="488.5" stroke="#7a7a7a" stroke-width="1.0"/>
<line x1="303" y1="278" x2="303" y2="488.5" stroke="#333" stroke-width="1.0"/>
<line x1="42.8" y1="488" x2="42.8" y2="490.6" stroke="#333" stroke-width="0.9"/>
<text x="42.8" y="501.4" font-size="12.6" text-anchor="middle" font-weight="normal" fill="#000">0</text>
<line x1="112.14" y1="488" x2="112.14" y2="490.6" stroke="#333" stroke-width="0.9"/>
<text x="112.14" y="501.4" font-size="12.6" text-anchor="middle" font-weight="normal" fill="#000">200</text>
<line x1="181.48" y1="488" x2="181.48" y2="490.6" stroke="#333" stroke-width="0.9"/>
<text x="181.48" y="501.4" font-size="12.6" text-anchor="middle" font-weight="normal" fill="#000">400</text>
<line x1="250.82" y1="488" x2="250.82" y2="490.6" stroke="#333" stroke-width="0.9"/>
<text x="250.82" y="501.4" font-size="12.6" text-anchor="middle" font-weight="normal" fill="#000">600</text>
<line x1="39.9" y1="473.5" x2="42.5" y2="473.5" stroke="#333" stroke-width="0.9"/>
<text x="37.3" y="477.8" font-size="12.6" text-anchor="end">10<tspan font-size="8.82" dy="-4.54">1</tspan></text>
<line x1="39.9" y1="426.3" x2="42.5" y2="426.3" stroke="#333" stroke-width="0.9"/>
<text x="37.3" y="430.6" font-size="12.6" text-anchor="end">10<tspan font-size="8.82" dy="-4.54">2</tspan></text>
<line x1="39.9" y1="379.1" x2="42.5" y2="379.1" stroke="#333" stroke-width="0.9"/>
<text x="37.3" y="383.4" font-size="12.6" text-anchor="end">10<tspan font-size="8.82" dy="-4.54">3</tspan></text>
<line x1="39.9" y1="331.9" x2="42.5" y2="331.9" stroke="#333" stroke-width="0.9"/>
<text x="37.3" y="336.2" font-size="12.6" text-anchor="end">10<tspan font-size="8.82" dy="-4.54">4</tspan></text>
<line x1="39.9" y1="284.7" x2="42.5" y2="284.7" stroke="#333" stroke-width="0.9"/>
<text x="37.3" y="289" font-size="12.6" text-anchor="end">10<tspan font-size="8.82" dy="-4.54">5</tspan></text>
<line x1="41" y1="487.71" x2="42.5" y2="487.71" stroke="#555" stroke-width="0.7"/>
<line x1="41" y1="483.97" x2="42.5" y2="483.97" stroke="#555" stroke-width="0.7"/>
<line x1="41" y1="480.81" x2="42.5" y2="480.81" stroke="#555" stroke-width="0.7"/>
<line x1="41" y1="478.07" x2="42.5" y2="478.07" stroke="#555" stroke-width="0.7"/>
<line x1="41" y1="475.66" x2="42.5" y2="475.66" stroke="#555" stroke-width="0.7"/>
<line x1="41" y1="459.29" x2="42.5" y2="459.29" stroke="#555" stroke-width="0.7"/>
<line x1="41" y1="450.98" x2="42.5" y2="450.98" stroke="#555" stroke-width="0.7"/>
<line x1="41" y1="445.08" x2="42.5" y2="445.08" stroke="#555" stroke-width="0.7"/>
<line x1="41" y1="440.51" x2="42.5" y2="440.51" stroke="#555" stroke-width="0.7"/>
<line x1="41" y1="436.77" x2="42.5" y2="436.77" stroke="#555" stroke-width="0.7"/>
<line x1="41" y1="433.61" x2="42.5" y2="433.61" stroke="#555" stroke-width="0.7"/>
<line x1="41" y1="430.87" x2="42.5" y2="430.87" stroke="#555" stroke-width="0.7"/>
<line x1="41" y1="428.46" x2="42.5" y2="428.46" stroke="#555" stroke-width="0.7"/>
<line x1="41" y1="412.09" x2="42.5" y2="412.09" stroke="#555" stroke-width="0.7"/>
<line x1="41" y1="403.78" x2="42.5" y2="403.78" stroke="#555" stroke-width="0.7"/>
<line x1="41" y1="397.88" x2="42.5" y2="397.88" stroke="#555" stroke-width="0.7"/>
<line x1="41" y1="393.31" x2="42.5" y2="393.31" stroke="#555" stroke-width="0.7"/>
<line x1="41" y1="389.57" x2="42.5" y2="389.57" stroke="#555" stroke-width="0.7"/>
<line x1="41" y1="386.41" x2="42.5" y2="386.41" stroke="#555" stroke-width="0.7"/>
<line x1="41" y1="383.67" x2="42.5" y2="383.67" stroke="#555" stroke-width="0.7"/>
<line x1="41" y1="381.26" x2="42.5" y2="381.26" stroke="#555" stroke-width="0.7"/>
<line x1="41" y1="364.89" x2="42.5" y2="364.89" stroke="#555" stroke-width="0.7"/>
<line x1="41" y1="356.58" x2="42.5" y2="356.58" stroke="#555" stroke-width="0.7"/>
<line x1="41" y1="350.68" x2="42.5" y2="350.68" stroke="#555" stroke-width="0.7"/>
<line x1="41" y1="346.11" x2="42.5" y2="346.11" stroke="#555" stroke-width="0.7"/>
<line x1="41" y1="342.37" x2="42.5" y2="342.37" stroke="#555" stroke-width="0.7"/>
<line x1="41" y1="339.21" x2="42.5" y2="339.21" stroke="#555" stroke-width="0.7"/>
<line x1="41" y1="336.47" x2="42.5" y2="336.47" stroke="#555" stroke-width="0.7"/>
<line x1="41" y1="334.06" x2="42.5" y2="334.06" stroke="#555" stroke-width="0.7"/>
<line x1="41" y1="317.69" x2="42.5" y2="317.69" stroke="#555" stroke-width="0.7"/>
<line x1="41" y1="309.38" x2="42.5" y2="309.38" stroke="#555" stroke-width="0.7"/>
<line x1="41" y1="303.48" x2="42.5" y2="303.48" stroke="#555" stroke-width="0.7"/>
<line x1="41" y1="298.91" x2="42.5" y2="298.91" stroke="#555" stroke-width="0.7"/>
<line x1="41" y1="295.17" x2="42.5" y2="295.17" stroke="#555" stroke-width="0.7"/>
<line x1="41" y1="292.01" x2="42.5" y2="292.01" stroke="#555" stroke-width="0.7"/>
<line x1="41" y1="289.27" x2="42.5" y2="289.27" stroke="#555" stroke-width="0.7"/>
<line x1="41" y1="286.86" x2="42.5" y2="286.86" stroke="#555" stroke-width="0.7"/>
<text x="173.3" y="515" font-size="13.5" text-anchor="middle" font-weight="normal" fill="#000">Timestep <tspan font-style="italic">t</tspan></text>
<text transform="translate(12.6,383.4) rotate(-90)" font-size="13.3" text-anchor="middle">Total number of nodes</text>
<text x="0.4" y="280.7" font-size="11.3" font-weight="bold" text-anchor="start" textLength="16.8" lengthAdjust="spacingAndGlyphs">(c)</text>
<rect x="48.5" y="284.1" width="122.7" height="71.6" rx="2" ry="2" fill="#fff" fill-opacity="0.8" stroke="#d6d6d6" stroke-width="1"/>
<line x1="52.6" y1="293.3" x2="84.5" y2="293.3" stroke="#0000ff" stroke-width="1.3" stroke-dasharray="3.5,1.8"/>
<text x="93.8" y="297.9" font-size="13.1" text-anchor="start" font-weight="normal" fill="#000">group 1</text>
<line x1="52.6" y1="310.35" x2="84.5" y2="310.35" stroke="#2ca02c" stroke-width="1.3" stroke-dasharray="3.5,1.8"/>
<text x="93.8" y="314.95" font-size="13.1" text-anchor="start" font-weight="normal" fill="#000">group 2</text>
<line x1="52.6" y1="327.4" x2="84.5" y2="327.4" stroke="#0000ff" stroke-width="1.3"/>
<text x="93.8" y="332" font-size="13.1" text-anchor="start" font-weight="normal" fill="#000">group 1 new</text>
<line x1="52.6" y1="344.45" x2="84.5" y2="344.45" stroke="#2ca02c" stroke-width="1.3"/>
<text x="93.8" y="349.05" font-size="13.1" text-anchor="start" font-weight="normal" fill="#000">group 2 new</text>
<path d="M424.5,453.5 L426.1,453.5 L426.6,439.6 L427.1,453.5 L429.2,453.5 L429.7,442.2 L430.6,439.6 L431,430.5 L433.6,430.5 L434.8,413.5 L435.8,384.8 L437,383.9 L437.9,370 L438.5,315.7 L439.5,338 L440.5,351.5 L441.4,349.6 L442.4,369 L443.4,359.3 L444.3,361.2 L445.3,349.6 L446.3,339.9 L447.2,355.4 L448.2,351.5 L449.2,365.1 L450.1,351.5 L451.1,341.9 L452.1,328.3 L453,326.4 L454,316.7 L455,297.4 L455.9,272 L457.3,272 L457.9,295.4 L458.4,293.5 L459.2,312.8 L459.8,326.4 L460.3,329.47 L460.8,334.1 L461.7,336.1 L462.2,336.46 L462.7,339.9 L463.2,343.46 L463.7,345.7 L464.15,339.02 L464.6,336.1 L465.1,340.11 L465.6,343.8 L466.1,338.86 L466.6,335.1 L467.5,339.9 L468.2,336.06 L468.9,336.1 L469.4,342.57 L469.9,346.93 L470.4,355.4 L470.9,354.63 L471.4,352.56 L471.9,352.17 L472.4,353.5 L473.03,351.23 L473.67,351.07 L474.3,347.7 L474.8,344.59 L475.3,343.58 L475.8,343.91 L476.3,341.9 L476.93,344.5 L477.57,343.51 L478.2,343.8 L478.83,349.81 L479.47,358.83 L480.1,363.2 L480.65,362.65 L481.2,366.1 L481.75,365.33 L482.3,361.4 L482.9,361.62 L483.5,363.7 L484.1,358.63 L484.7,356.7 L485.25,351.52 L485.8,349.7 L486.4,347.11 L487,346.2 L487.6,346.44 L488.2,343.9 L488.65,338.4 L489.1,335.7 L489.9,342.7 L490.5,346.56 L491.1,349.7 L491.67,349.54 L492.23,347.61 L492.8,347.4 L493.4,346.04 L494,342.34 L494.6,342.7 L495.2,338.71 L495.8,338.6 L496.35,339.66 L496.9,343.3 L497.5,345.06 L498.1,344.91 L498.7,346.2 L499.4,347.13 L500.1,349.7 L500.6,348.51 L501.1,346.36 L501.6,345 L502.2,342.19 L502.8,342.43 L503.4,339.2 L503.95,338.63 L504.5,336.3 L505.1,336.62 L505.7,339.2 L506.3,336.63 L506.9,333.4 L507.45,336.41 L508,339.2 L508.6,331 L509.2,338.2 L509.8,342.1 L510.35,338.76 L510.9,333.4 L511.5,331.67 L512.1,333.91 L512.7,331 L513.3,328.77 L513.9,329.9 L514.45,331.84 L515,334.5 L515.6,332.73 L516.2,328.7 L516.8,326.57 L517.4,327.5 L517.95,326.3 L518.5,325.2 L519.1,321.97 L519.7,322.8 L520.6,321.1 L521.5,322.8 L522.05,327.64 L522.6,331 L523.2,329.26 L523.8,325.2 L524.4,327.87 L525,329.9 L525.55,333.3 L526.1,333.4 L526.7,331.38 L527.3,331 L527.9,335.7 L528.5,337.71 L529.1,338 L529.67,339.02 L530.25,339.55 L530.83,339.61 L531.4,340.4 L532,340.15 L532.6,336.9 L533.15,337.96 L533.7,335.1 L534.3,338.19 L534.9,341.5 L535.47,343.39 L536.03,341.9 L536.6,345 L537.2,344.14 L537.8,341.5 L538.4,341.18 L539,341.74 L539.6,338.6 L540.17,338.28 L540.73,334.19 L541.3,333.4 L541.9,331.73 L542.5,331.81 L543.1,329.9 L543.65,328.95 L544.2,332.2 L544.8,331.83 L545.4,330.34 L546,331.6 L546.6,331.37 L547.2,334.5 L547.77,333.36 L548.33,337.28 L548.9,336.9 L549.5,335.82 L550.1,338 L550.65,338.64 L551.2,341.5 L551.8,341.82 L552.4,344.73 L553,343.9 L553.57,342.42 L554.13,344.41 L554.7,345 L555.3,344.94 L555.9,346.14 L556.5,345.58 L557.1,343.9 L557.67,346.23 L558.25,344.38 L558.83,345.7 L559.4,346.8 L560.05,345.23 L560.7,344.9 L561.33,344.32 L561.97,343.19 L562.6,341.1 L563.16,340.85 L563.72,341.28 L564.28,341.76 L564.84,342.14 L565.4,343 L565.98,342.59 L566.56,342.4 L567.14,341.43 L567.72,340.59 L568.3,341.1 L568.86,341.53 L569.42,342.02 L569.98,342.96 L570.54,344.24 L571.1,344 L571.68,344.52 L572.26,344.39 L572.84,344.75 L573.42,345.04 L574,344.9 L574.56,344.3 L575.12,346.02 L575.68,346 L576.24,346.37 L576.8,345.9 L577.38,346.24 L577.96,345.31 L578.54,345.12 L579.12,344.39 L579.7,344.9 L580.26,344.76 L580.82,343.35 L581.38,342.98 L581.94,342.86 L582.5,343 L583.08,342.13 L583.66,342.19 L584.24,341.41 L584.82,341.06 L585.4,341.7 L585.96,340.95 L586.52,340.74 L587.08,341.09 L587.64,340.37 L588.2,341.1 L588.78,341.97 L589.36,341.71 L589.94,341.07 L590.52,341.45 L591.1,342.1 L591.66,341.63 L592.22,341.46 L592.78,340.82 L593.34,341.93 L593.9,341.1 L594.46,341.61 L595.02,340.28 L595.58,339.93 L596.14,338.83 L596.7,339.2 L597.28,338.38 L597.86,338.72 L598.44,338.48 L599.02,339.39 L599.6,338.7 L600.16,338.57 L600.72,338.8 L601.28,340.95 L601.84,340.67 L602.4,341.1 L602.98,340.36 L603.56,340.98 L604.14,339.95 L604.72,340.75 L605.3,340.6 L605.86,341.38 L606.42,341.09 L606.98,340.71 L607.54,339.85 L608.1,340.2 L608.64,339.9 L609.19,339.49 L609.73,340.52 L610.27,340.03 L610.81,340.42 L611.36,339.55 L611.9,339.8 L612.44,339.22 L612.99,340.19 L613.53,340.42 L614.07,340.09 L614.61,339.92 L615.16,339.86 L615.7,339.2 L616.24,339.56 L616.79,338.57 L617.33,339.02 L617.87,338.65 L618.41,338 L618.96,337.92 L619.5,338.7 L620.04,338.19 L620.59,338.04 L621.13,338.7 L621.67,339.06 L622.21,338.03 L622.76,338.8 L623.3,337.9 L623.84,338.69 L624.39,338.55 L624.93,337.4 L625.47,337.05 L626.01,336.98 L626.56,336.84 L627.1,337.3 L627.68,336.67 L628.26,337.32 L628.84,337.72 L629.42,337.51 L630,336.8 L630.56,336.98 L631.12,337.52 L631.68,338 L632.24,336.93 L632.8,337.9 L633.34,338.25 L633.89,338.75 L634.43,338.58 L634.97,338.58 L635.51,338.15 L636.06,337.66 L636.6,338.3 L637.12,338.86 L637.64,338.07 L638.15,338.95 L638.67,339.29 L639.19,338.29 L639.71,338.34 L640.23,339.36 L640.75,339 L641.26,338.03 L641.78,337.99 L642.3,338.7 L642.81,338.05 L643.31,339.38 L643.82,339.17 L644.33,337.96 L644.83,339.15 L645.34,339.4 L645.85,338.8 L646.35,338.22 L646.86,338.55 L647.37,337.77 L647.87,337.53 L648.38,339.23 L648.89,338.62 L649.39,338.37 L649.9,338.3 L650.4,339.06 L650.9,338.14 L651.4,338.91 L651.9,338.8 L652.4,337.67 L652.9,337.73 L653.4,337.78 L653.9,337.66 L654.4,338.27 L654.9,337.66 L655.4,337.92 L655.9,337.38 L656.4,338.76 L656.9,337.74 L657.4,337.91 L657.9,338.11 L658.4,338.67 L658.9,337.78 L659.4,337.9 L659.9,338.69 L660.4,337.99 L660.9,338.08 L661.4,338.11 L661.9,337.24 L662.4,338.04 L662.9,337.62 L663.4,337.34 L663.9,338.82 L664.4,337.73 L664.9,338.32 L665.4,338.81 L665.9,338.55 L666.4,338.18 L666.9,338.56 L667.4,338.67 L667.9,339.13 L668.4,337.95 L668.9,338.7 L669.4,338.76 L669.9,338.14 L670.4,338.14 L670.9,338.98 L671.4,338.45 L671.9,338.49 L672.4,338.79 L672.9,339.02 L673.4,338.12 L673.9,338.37 L674.4,338.12 L674.9,338.08 L675.4,338.35 L675.9,337.87 L676.4,337.9 L676.9,337.98 L677.4,337.91 L677.9,338.77 L678.4,338.36 L678.9,338.7 L679.4,338.85 L679.9,337.64 L680.4,338.21 L680.9,338.92 L681.4,338.76 L681.9,337.52 L682.4,337.52 L682.9,338.12 L683.4,337.48 L683.9,337.81 L684.4,338.3" fill="none" stroke="#1f77b4" stroke-width="1.35" stroke-linejoin="round" stroke-linecap="butt" clip-path="url(#cd)"/>
<line x1="424.5" y1="338.6" x2="684.5" y2="338.6" stroke="#1f77b4" stroke-width="1.2" stroke-dasharray="3.6,1.6"/>
<path d="M559.9,347.2 C560.22,346.62 561.27,343.93 561.8,343.7 C562.33,343.47 562.43,342.73 563.1,345.8 C563.77,348.87 564.9,356.23 565.8,362.1 C566.7,367.97 567.37,375.13 568.5,381 C569.63,386.87 571.23,392.33 572.6,397.3 C573.97,402.27 575.12,406.52 576.7,410.8 C578.28,415.08 579.62,418.7 582.1,423 C584.58,427.3 588.67,433.22 591.6,436.6 C594.53,439.98 596.77,441.27 599.7,443.3 C602.63,445.33 605.37,446.77 609.2,448.8 C613.03,450.83 618.18,453.62 622.7,455.5 C627.22,457.38 631.78,458.73 636.3,460.1 C640.82,461.47 645.3,462.78 649.8,463.7 C654.3,464.62 658.78,465.15 663.3,465.6 C667.82,466.05 673.37,466.23 676.9,466.4 C680.43,466.57 683.23,466.57 684.5,466.6" fill="none" stroke="#ff7f0e" stroke-width="1.3" stroke-linejoin="round" clip-path="url(#cd)"/>
<line x1="563.1" y1="467.2" x2="684.5" y2="467.2" stroke="#ff7f0e" stroke-width="1.2" stroke-dasharray="3.6,1.6"/>
<rect x="438.3" y="409.9" width="131.8" height="72.2" rx="2" ry="2" fill="#fff" fill-opacity="0.8" stroke="#d6d6d6" stroke-width="1"/>
<line x1="442.5" y1="419.7" x2="466.1" y2="419.7" stroke="#1f77b4" stroke-width="1.3"/>
<text x="475.2" y="424.3" font-size="13.5" text-anchor="start" font-weight="normal" fill="#000">simulation</text>
<line x1="442.5" y1="436.7" x2="466.1" y2="436.7" stroke="#ff7f0e" stroke-width="1.3"/>
<text x="475.2" y="441.3" font-size="13.5" text-anchor="start" font-weight="normal" fill="#000">simulation new</text>
<line x1="442.5" y1="453.7" x2="466.1" y2="453.7" stroke="#1f77b4" stroke-width="1.3" stroke-dasharray="3.6,1.6"/>
<text x="475.2" y="458.3" font-size="13.5" text-anchor="start" font-weight="normal" fill="#000">theoretical</text>
<line x1="442.5" y1="470.7" x2="466.1" y2="470.7" stroke="#ff7f0e" stroke-width="1.3" stroke-dasharray="3.6,1.6"/>
<text x="475.2" y="475.3" font-size="13.5" text-anchor="start" font-weight="normal" fill="#000">theoretical new</text>
<line x1="424" y1="278.5" x2="685" y2="278.5" stroke="#777" stroke-width="1.0"/>
<line x1="424" y1="488" x2="685" y2="488" stroke="#333" stroke-width="1.0"/>
<line x1="424.5" y1="278" x2="424.5" y2="488.5" stroke="#808080" stroke-width="1.0"/>
<line x1="684.5" y1="278" x2="684.5" y2="488.5" stroke="#444" stroke-width="1.0"/>
<line x1="424.5" y1="488" x2="424.5" y2="490.6" stroke="#333" stroke-width="0.9"/>
<text x="424.5" y="501.4" font-size="12.6" text-anchor="middle" font-weight="normal" fill="#000">0</text>
<line x1="493.8" y1="488" x2="493.8" y2="490.6" stroke="#333" stroke-width="0.9"/>
<text x="493.8" y="501.4" font-size="12.6" text-anchor="middle" font-weight="normal" fill="#000">200</text>
<line x1="563.1" y1="488" x2="563.1" y2="490.6" stroke="#333" stroke-width="0.9"/>
<text x="563.1" y="501.4" font-size="12.6" text-anchor="middle" font-weight="normal" fill="#000">400</text>
<line x1="632.4" y1="488" x2="632.4" y2="490.6" stroke="#333" stroke-width="0.9"/>
<text x="632.4" y="501.4" font-size="12.6" text-anchor="middle" font-weight="normal" fill="#000">600</text>
<line x1="421.9" y1="488" x2="424.5" y2="488" stroke="#333" stroke-width="0.9"/>
<text x="419.6" y="492.4" font-size="12.6" text-anchor="end" font-weight="normal" fill="#000">0.5</text>
<line x1="421.9" y1="453.56" x2="424.5" y2="453.56" stroke="#333" stroke-width="0.9"/>
<text x="419.6" y="457.96" font-size="12.6" text-anchor="end" font-weight="normal" fill="#000">1.0</text>
<line x1="421.9" y1="419.13" x2="424.5" y2="419.13" stroke="#333" stroke-width="0.9"/>
<text x="419.6" y="423.53" font-size="12.6" text-anchor="end" font-weight="normal" fill="#000">1.5</text>
<line x1="421.9" y1="384.69" x2="424.5" y2="384.69" stroke="#333" stroke-width="0.9"/>
<text x="419.6" y="389.09" font-size="12.6" text-anchor="end" font-weight="normal" fill="#000">2.0</text>
<line x1="421.9" y1="350.26" x2="424.5" y2="350.26" stroke="#333" stroke-width="0.9"/>
<text x="419.6" y="354.66" font-size="12.6" text-anchor="end" font-weight="normal" fill="#000">2.5</text>
<line x1="421.9" y1="315.82" x2="424.5" y2="315.82" stroke="#333" stroke-width="0.9"/>
<text x="419.6" y="320.22" font-size="12.6" text-anchor="end" font-weight="normal" fill="#000">3.0</text>
<line x1="421.9" y1="281.39" x2="424.5" y2="281.39" stroke="#333" stroke-width="0.9"/>
<text x="419.6" y="285.79" font-size="12.6" text-anchor="end" font-weight="normal" fill="#000">3.5</text>
<text x="554.5" y="515" font-size="13.5" text-anchor="middle" font-weight="normal" fill="#000">Timestep <tspan font-style="italic">t</tspan></text>
<text transform="translate(396.4,383.2) rotate(-90)" font-size="12.8" text-anchor="middle">Ratio</text>
<text x="381.1" y="280.8" font-size="11.3" font-weight="bold" text-anchor="start" textLength="18.2" lengthAdjust="spacingAndGlyphs">(d)</text>
</svg></body></html>
